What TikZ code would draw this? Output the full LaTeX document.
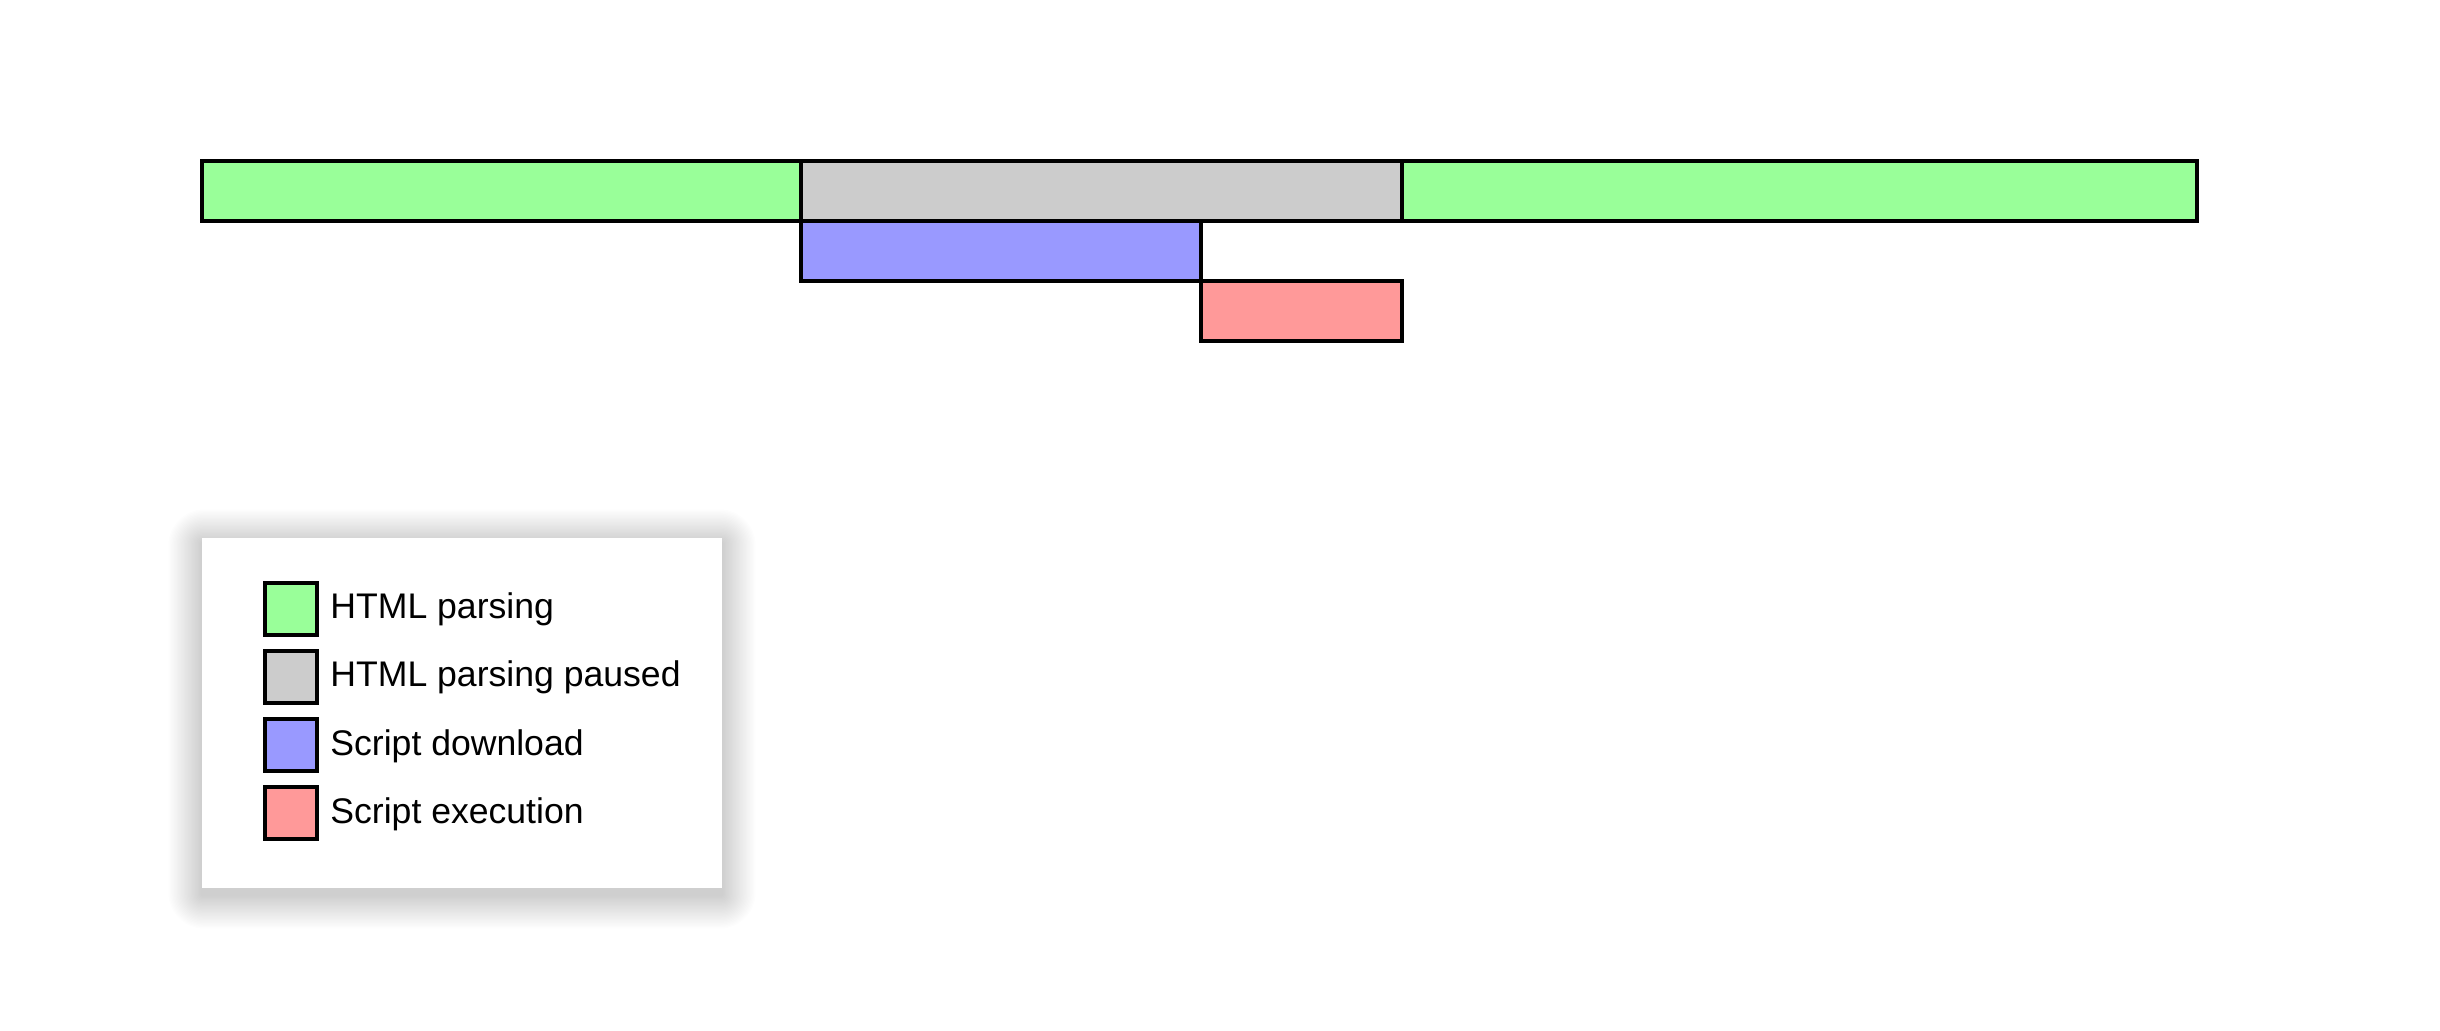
\documentclass[tikz,border=0pt]{standalone}
\usepackage{fontspec}
\setmainfont{Liberation Sans}
\definecolor{cparse}{HTML}{99FF99}
\definecolor{cpause}{HTML}{CCCCCC}
\definecolor{cdown}{HTML}{9999FF}
\definecolor{cexec}{HTML}{FF9999}
\begin{document}
\begin{tikzpicture}[x=0.5pt,y=-0.5pt,
  bar/.style={draw=black, line width=2pt},
  swatch/.style={draw=black, line width=2pt, minimum width=26pt, minimum height=26pt, inner sep=0pt},
  ltext/.style={anchor=base west, inner sep=0pt, font=\fontsize{17.8}{20}\selectfont}]
\useasboundingbox[fill=white] (0,0) rectangle (2440,1030);
% bars
\draw[bar, fill=cparse] (202,161) rectangle (801,221);
\draw[bar, fill=cparse] (1402,161) rectangle (2197,221);
\draw[bar, fill=cpause] (801,161) rectangle (1402,221);
\draw[bar, fill=cdown] (801,221) rectangle (1201,281);
\draw[bar, fill=cexec] (1201,281) rectangle (1402,341);
% legend shadow
\foreach \i in {1,...,24}{
  \fill[black, opacity=0.0075, rounded corners=\i*0.75pt] (202-\i*1.4,538-\i*1.4+5) rectangle (722+\i*1.4,888+\i*1.4+7);
}
\fill[white] (202,538) rectangle (722,888);
% legend
\node[swatch, fill=cparse] (s1) at (291,609) {};
\node[swatch, fill=cpause] (s2) at (291,677) {};
\node[swatch, fill=cdown] (s3) at (291,745) {};
\node[swatch, fill=cexec] (s4) at (291,813) {};
\node[ltext] (t1) at (330,618) {HTML parsing};
\node[ltext] (t2) at (330,686) {HTML parsing paused};
\node[ltext] (t3) at (330,755) {Script download};
\node[ltext] (t4) at (330,823) {Script execution};
\end{tikzpicture}
\end{document}
